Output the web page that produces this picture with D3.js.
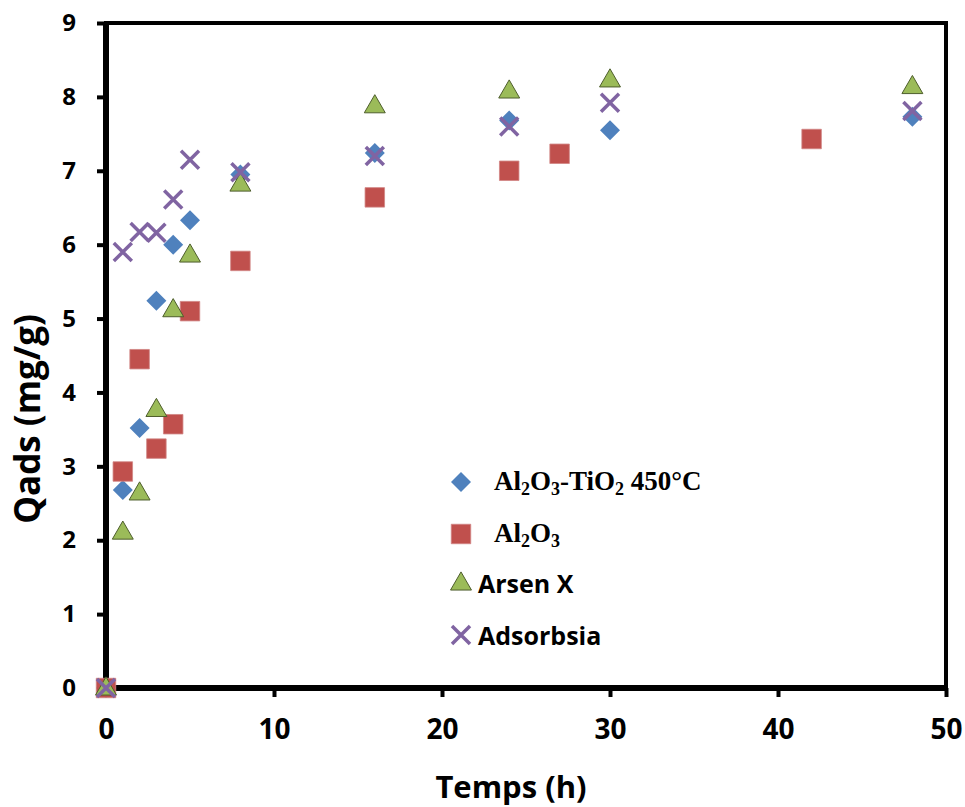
<!DOCTYPE html>
<html>
<head>
<meta charset="utf-8">
<script src="https://cdn.jsdelivr.net/npm/d3@7"></script>
<style>
  body { margin: 0; background: #fff; }
  svg { display: block; }
  .tick text { font-family: "Open Sans", Lato, sans-serif; font-weight: bold; fill: #000; }
  .x-axis .tick text { font-size: 28px; }
  .y-axis .tick text { font-size: 24px; }
</style>
</head>
<body>
<div class="chart"></div>
<script>
(function(){

//data
var timeHours = [0, 1, 2, 3, 4, 5, 8, 16, 24, 30, 48];
var timeAl2O3 = [0, 1, 2, 3, 4, 5, 8, 16, 24, 27, 42];

var qTiO2 = [0, 2.68, 3.52, 5.24, 6.0, 6.33, 6.95, 7.24, 7.68, 7.55, 7.73];
var qAl2O3 = [0, 2.93, 4.45, 3.24, 3.57, 5.1, 5.78, 6.64, 7.0, 7.23, 7.43];
var qArsenX = [0, 2.11, 2.64, 3.77, 5.12, 5.86, 6.82, 7.88, 8.08, 8.23, 8.14];
var qAdsorbsia = [0, 5.9, 6.17, 6.16, 6.61, 7.15, 6.98, 7.2, 7.6, 7.92, 7.81];

var xTicks = [0, 10, 20, 30, 40, 50];
var yTicks = [0, 1, 2, 3, 4, 5, 6, 7, 8, 9];

var width = 965,
    height = 807;

var margin = {left: 106, right: 19, top: 23, bottom: 119};

var sans = "'Open Sans', Lato, sans-serif";
var serif = "'Liberation Serif', 'DejaVu Serif', serif";

var svg = d3.select(".chart")
    .append("svg")
    .attr("width", width)
    .attr("height", height);

var x = d3.scaleLinear()
    .domain([0, 50])
    .range([margin.left, width - margin.right]);

var y = d3.scaleLinear()
    .domain([0, 9])
    .range([height - margin.bottom, margin.top]);

//plot frame (top and right edges)
svg.append("rect")
    .attr("x", x(0))
    .attr("y", y(9))
    .attr("width", x(50) - x(0))
    .attr("height", y(0) - y(9))
    .attr("fill", "none")
    .attr("stroke", "#000")
    .attr("stroke-width", 4);

var xAxis = svg.append("g")
    .attr("class", "x-axis")
    .attr("transform", "translate(0," + y(0) + ")")
    .call(d3.axisBottom(x).tickValues(xTicks).tickSize(9).tickPadding(22));

var yAxis = svg.append("g")
    .attr("class", "y-axis")
    .attr("transform", "translate(" + x(0) + ",0)")
    .call(d3.axisLeft(y).tickValues(yTicks).tickSize(9).tickPadding(21));

[xAxis, yAxis].forEach(function(a){
    a.select(".domain").attr("stroke", "#000").attr("stroke-width", 6);
    a.selectAll(".tick line").attr("stroke", "#000").attr("stroke-width", 4);
});
// domain path with outer ticks off
xAxis.select(".domain").attr("d", "M" + (x(0) - 3) + ",0H" + x(50));
yAxis.select(".domain").attr("d", "M0," + (y(0) + 3) + "V" + y(9));

//axis titles
svg.append("text")
    .attr("x", 511)
    .attr("y", 798)
    .attr("text-anchor", "middle")
    .style("font-family", sans)
    .style("font-weight", "bold")
    .style("font-size", "31px")
    .text("Temps (h)");

svg.append("text")
    .attr("transform", "translate(40,419) rotate(-90)")
    .attr("text-anchor", "middle")
    .style("font-family", sans)
    .style("font-weight", "bold")
    .style("font-size", "35px")
    .text("Qads (mg/g)");

//marker shapes
var sym = {
    diamond: d3.symbol().type(d3.symbolSquare).size(200),
    square: d3.symbol().type(d3.symbolSquare).size(380),
    triangle: d3.symbol().type(d3.symbolTriangle).size(190)
};

function drawMarker(g, kind, px, py){
    if (kind === "diamond") {
        g.append("path").attr("d", sym.diamond())
            .attr("transform", "translate(" + px + "," + py + ") rotate(45)")
            .attr("fill", "#4F81BD");
    } else if (kind === "square") {
        g.append("path").attr("d", sym.square())
            .attr("transform", "translate(" + px + "," + py + ")")
            .attr("fill", "#C0504D")
            .attr("stroke", "#D08584")
            .attr("stroke-width", 0.8);
    } else if (kind === "triangle") {
        g.append("path").attr("d", sym.triangle())
            .attr("transform", "translate(" + px + "," + (py + 1) + ")")
            .attr("fill", "#9BBB59")
            .attr("stroke", "#4E5E2C")
            .attr("stroke-width", 1);
    } else {
        var s = 9;
        g.append("path")
            .attr("d", "M" + (px - s) + "," + (py - s) + "L" + (px + s) + "," + (py + s) +
                       "M" + (px - s) + "," + (py + s) + "L" + (px + s) + "," + (py - s))
            .attr("stroke", "#8064A2")
            .attr("stroke-width", 3.5)
            .attr("fill", "none");
    }
}

var series = [
    {name: "tio2", kind: "diamond", xs: timeHours, ys: qTiO2},
    {name: "al2o3", kind: "square", xs: timeAl2O3, ys: qAl2O3},
    {name: "arsenx", kind: "triangle", xs: timeHours, ys: qArsenX},
    {name: "adsorbsia", kind: "cross", xs: timeHours, ys: qAdsorbsia}
];

series.forEach(function(s){
    var g = svg.append("g").attr("class", "series " + s.name);
    s.xs.forEach(function(t, i){
        drawMarker(g, s.kind, x(t), y(s.ys[i]));
    });
});

//legend
var legend = svg.append("g").attr("class", "legend");
var legendRows = [
    {kind: "diamond", cy: 482, tx: 494, ty: 490},
    {kind: "square", cy: 534, tx: 494, ty: 542},
    {kind: "triangle", cy: 583, tx: 478, ty: 593},
    {kind: "cross", cy: 635, tx: 478, ty: 645}
];
legendRows.forEach(function(r){
    drawMarker(legend, r.kind, 461, r.cy);
});

// chemical formula, subscripts shift down by 5px and back up after
function chem(row, parts){
    var t = legend.append("text")
        .attr("x", row.tx)
        .attr("y", row.ty)
        .style("font-family", serif)
        .style("font-weight", "bold")
        .style("font-size", "27px");
    var shifted = false;
    parts.forEach(function(p){
        var sub = p[1] === 1;
        var dy = 0;
        if (sub && !shifted) { dy = 5; shifted = true; }
        else if (!sub && shifted) { dy = -5; shifted = false; }
        t.append("tspan")
            .attr("dy", dy)
            .style("font-size", sub ? "18px" : "27px")
            .text(p[0]);
    });
}
chem(legendRows[0], [["Al", 0], ["2", 1], ["O", 0], ["3", 1], ["-TiO", 0], ["2", 1], [" 450°C", 0]]);
chem(legendRows[1], [["Al", 0], ["2", 1], ["O", 0], ["3", 1]]);

[[legendRows[2], "Arsen X"], [legendRows[3], "Adsorbsia"]].forEach(function(p){
    legend.append("text")
        .attr("x", p[0].tx)
        .attr("y", p[0].ty)
        .style("font-family", sans)
        .style("font-weight", "bold")
        .style("font-size", "25px")
        .text(p[1]);
});

})();
</script>
</body>
</html>
